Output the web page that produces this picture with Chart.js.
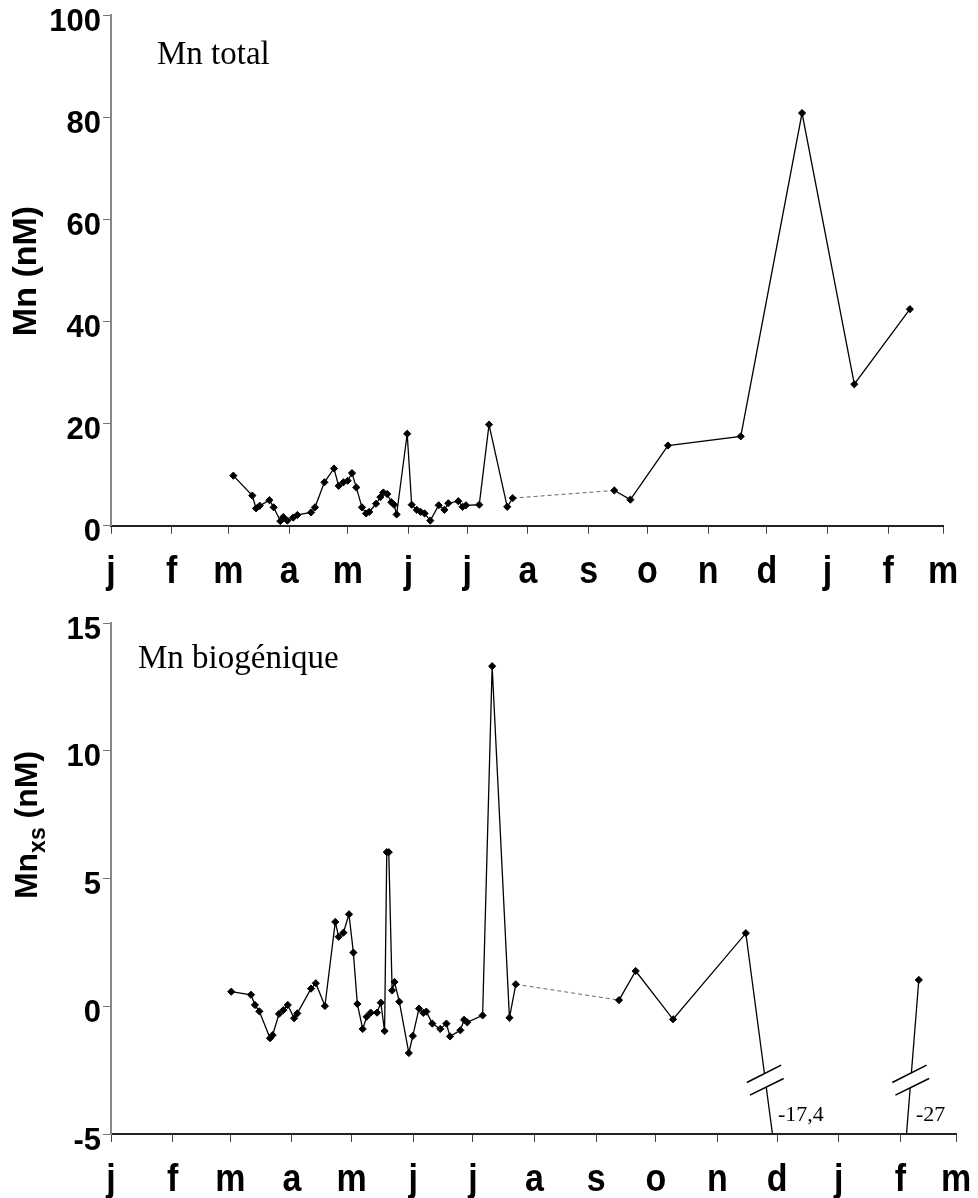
<!DOCTYPE html>
<html>
<head>
<meta charset="utf-8">
<script src="https://cdn.jsdelivr.net/npm/chart.js@4.4.1/dist/chart.umd.min.js"></script>
<style>
  html, body { margin: 0; padding: 0; background: #fff; }
  #wrap { position: relative; width: 978px; height: 1198px; overflow: hidden; }
  #wrap canvas { position: absolute; left: 0; }
  #topChart { top: 0; }
  #botChart { top: 600px; }
</style>
</head>
<body>
<div id="wrap">
  <canvas id="topChart" width="978" height="600"></canvas>
  <canvas id="botChart" width="978" height="598"></canvas>
</div>
<script>
// x axis in days from 1 January (leap year first), ticks at month starts
const monthTicks = [0, 31, 60, 91, 121, 152, 182, 213, 244, 274, 305, 335, 366, 397, 425];
const monthLabels = ['j', 'f', 'm', 'a', 'm', 'j', 'j', 'a', 's', 'o', 'n', 'd', 'j', 'f', 'm'];

// Mn total (nM)
const totalDays = [62.5, 72.2, 74.1, 76.0, 80.9, 83.1, 86.5, 88.0, 90.1, 93.1,
  95.2, 102.2, 104.2, 109.0, 113.9, 116.3, 118.7, 120.9, 123.1, 125.3,
  128.2, 130.3, 131.9, 135.4, 137.6, 139.1, 141.1, 143.2, 144.6, 145.9,
  151.3, 153.6, 156.2, 158.2, 160.2, 163.1, 167.4, 170.3, 172.3, 177.4,
  179.6, 181.3, 188.1, 193.1, 202.4, 205.2,
  257.1, 265.3, 284.5, 321.7, 353.0, 379.7, 408.1];
const totalMn = [9.8, 5.9, 3.4, 3.9, 5.0, 3.6, 0.9, 1.7, 1.0, 1.6,
  2.1, 2.6, 3.6, 8.5, 11.2, 7.8, 8.5, 8.8, 10.3, 7.5,
  3.6, 2.4, 2.7, 4.3, 5.6, 6.5, 6.2, 4.6, 4.1, 2.2,
  18.0, 4.1, 3.1, 2.7, 2.4, 1.0, 4.0, 3.1, 4.4, 4.8,
  3.7, 4.0, 4.1, 19.8, 3.7, 5.4,
  6.9, 5.1, 15.7, 17.5, 80.8, 27.7, 42.4];
const totalGapAfter = 45;   // dashed segment starts at this point

// Mn biogénique (nM)
const bioDays = [60.5, 70.4, 72.4, 74.6, 80.0, 81.3, 84.5, 86.7, 88.9, 92.1,
  93.7, 100.6, 103.0, 107.6, 112.8, 114.5, 116.9, 119.7, 121.9, 123.9,
  126.6, 128.6, 130.6, 133.8, 135.7, 137.6, 138.7, 139.7, 141.4, 142.6,
  145.0, 149.8, 151.8, 154.9, 157.1, 158.6, 161.6, 165.6, 168.7, 170.5,
  175.7, 177.6, 179.2, 186.9, 191.7, 200.4, 203.6,
  255.5, 263.9, 282.7, 319.3, 353.8, 377.5, 406.3];
const bioMn = [0.57, 0.45, 0.05, -0.20, -1.25, -1.13, -0.30, -0.15, 0.05, -0.47,
  -0.28, 0.69, 0.90, 0.01, 3.30, 2.72, 2.88, 3.60, 2.10, 0.09,
  -0.89, -0.41, -0.25, -0.25, 0.14, -0.97, 6.03, 6.03, 0.62, 0.95,
  0.18, -1.83, -1.16, -0.09, -0.26, -0.21, -0.68, -0.89, -0.68, -1.18,
  -0.94, -0.53, -0.63, -0.36, 13.31, -0.45, 0.86,
  0.24, 1.38, -0.51, 2.86, -17.4, -27, 1.03];
const bioGapAfter = 46;
const bioBreaks = [{ from: 50, to: 51, text: '-17,4' }, { from: 52, to: 53, text: '-27' }];

const sans = '"Liberation Sans", Arial, sans-serif';
const serif = '"Liberation Serif", "Times New Roman", serif';
const tickFont = { family: sans, size: 31, weight: 'bold' };

function xAxis(height) {
  return {
    type: 'linear', min: 0, max: 425,
    afterBuildTicks: s => { s.ticks = monthTicks.map(v => ({ value: v })); },
    afterFit: s => { s.height = height; s.paddingLeft = 0; s.paddingRight = 0; },
    ticks: { display: false, autoSkip: false },
    grid: { drawOnChartArea: false, tickLength: 8, color: '#444', lineWidth: 1 },
    border: { color: '#222', width: 2 }
  };
}

function yAxis(min, max, step) {
  return {
    min: min, max: max,
    afterFit: s => { s.width = 111; s.paddingTop = 0; s.paddingBottom = 0; },
    ticks: { stepSize: step, padding: 2, labelOffset: 7, color: '#000', font: tickFont },
    grid: { drawOnChartArea: false, tickLength: 8, color: '#777', lineWidth: 1 },
    border: { color: '#888', width: 2 }
  };
}

function series(days, vals, gapAfter) {
  return {
    data: days.map((d, i) => ({ x: d, y: vals[i] })),
    borderColor: '#000', borderWidth: 1.3, tension: 0,
    pointStyle: 'rectRot', pointRadius: 3.6, pointBorderWidth: 1,
    pointBackgroundColor: '#000', pointBorderColor: '#000',
    segment: {
      borderDash: c => c.p0DataIndex === gapAfter ? [4, 3] : undefined,
      borderColor: c => c.p0DataIndex === gapAfter ? '#666' : undefined,
      borderWidth: c => c.p0DataIndex === gapAfter ? 1 : undefined
    }
  };
}

// month letters under the x axis, slightly stretched vertically like the original
const monthPlugin = {
  id: 'monthLetters',
  afterDraw(chart) {
    const { ctx, chartArea } = chart;
    const xs = chart.scales.x;
    ctx.save();
    ctx.fillStyle = '#000';
    ctx.font = 'bold 34px ' + sans;
    ctx.textAlign = 'center';
    ctx.textBaseline = 'alphabetic';
    monthTicks.forEach((v, i) => {
      ctx.save();
      ctx.translate(xs.getPixelForValue(v), chartArea.bottom + 57);
      ctx.scale(1, 1.13);
      ctx.fillText(monthLabels[i], 0, 0);
      ctx.restore();
    });
    ctx.restore();
  }
};

// panel name and y axis title (with subscript pieces)
const textPlugin = {
  id: 'panelText',
  afterDraw(chart, args, o) {
    const { ctx, chartArea } = chart;
    ctx.save();
    ctx.fillStyle = '#000';
    ctx.textBaseline = 'alphabetic';
    ctx.font = '33px ' + serif;
    ctx.fillText(o.name, chartArea.left + o.nameDx, chartArea.top + o.nameDy);

    ctx.translate(o.titleX, o.titleY);
    ctx.rotate(-Math.PI / 2);
    let total = 0;
    o.title.forEach(p => {
      ctx.font = 'bold ' + p.size + 'px ' + sans;
      total += ctx.measureText(p.t).width;
    });
    let x = -total / 2;
    o.title.forEach(p => {
      ctx.font = 'bold ' + p.size + 'px ' + sans;
      ctx.fillText(p.t, x, p.dy || 0);
      x += ctx.measureText(p.t).width;
    });
    ctx.restore();
  }
};

// axis-break marks on the two off-scale drops
const breakPlugin = {
  id: 'axisBreaks',
  afterDatasetsDraw(chart, args, o) {
    if (!o.items) return;
    const { ctx } = chart;
    const meta = chart.getDatasetMeta(0);
    const ys = chart.scales.y;
    const along = (b, val) => {
      const p0 = meta.data[b.from], p1 = meta.data[b.to];
      const py = ys.getPixelForValue(val);
      const t = (py - p0.y) / (p1.y - p0.y);
      return { x: p0.x + t * (p1.x - p0.x), y: py };
    };
    o.items.forEach(b => {
      const c = along(b, o.breakAt);
      ctx.save();
      ctx.translate(c.x, c.y);
      ctx.fillStyle = '#fff';
      ctx.beginPath();
      ctx.moveTo(-18.5, 2.2); ctx.lineTo(15.8, -15.2);
      ctx.lineTo(18.3, -1.8); ctx.lineTo(-15.4, 14.8);
      ctx.closePath(); ctx.fill();
      ctx.strokeStyle = '#000'; ctx.lineWidth = 1.6;
      ctx.beginPath();
      ctx.moveTo(-18.5, 2.2); ctx.lineTo(15.8, -15.2);
      ctx.moveTo(-15.4, 14.8); ctx.lineTo(18.3, -1.8);
      ctx.stroke();
      ctx.restore();

      const l = along(b, o.labelAt);
      ctx.save();
      ctx.fillStyle = '#000';
      ctx.font = '22px ' + serif;
      ctx.textBaseline = 'middle';
      ctx.fillText(b.text, l.x + 8, l.y);
      ctx.restore();
    });
  }
};

Chart.defaults.animation = false;

new Chart(document.getElementById('topChart'), {
  type: 'line',
  data: { datasets: [series(totalDays, totalMn, totalGapAfter)] },
  options: {
    responsive: false,
    layout: { padding: { left: 0, right: 35, top: 15, bottom: 0 } },
    scales: { x: xAxis(74.3), y: yAxis(0, 100, 20) },
    plugins: {
      legend: { display: false }, tooltip: { enabled: false },
      panelText: {
        name: 'Mn total', nameDx: 46, nameDy: 49,
        titleX: 36, titleY: 271,
        title: [{ t: 'Mn (nM)', size: 34 }]
      }
    }
  },
  plugins: [monthPlugin, textPlugin]
});

new Chart(document.getElementById('botChart'), {
  type: 'line',
  data: { datasets: [series(bioDays, bioMn, bioGapAfter)] },
  options: {
    responsive: false,
    layout: { padding: { left: 0, right: 22, top: 23, bottom: 0 } },
    scales: { x: xAxis(64), y: yAxis(-5, 15, 5) },
    plugins: {
      legend: { display: false }, tooltip: { enabled: false },
      panelText: {
        name: 'Mn biogénique', nameDx: 27, nameDy: 45,
        titleX: 37, titleY: 225,
        title: [{ t: 'Mn', size: 32 }, { t: 'xs', size: 23, dy: 8 }, { t: ' (nM)', size: 32 }]
      },
      axisBreaks: { items: bioBreaks, breakAt: -2.9, labelAt: -4.26 }
    }
  },
  plugins: [monthPlugin, textPlugin, breakPlugin]
});
</script>
</body>
</html>
